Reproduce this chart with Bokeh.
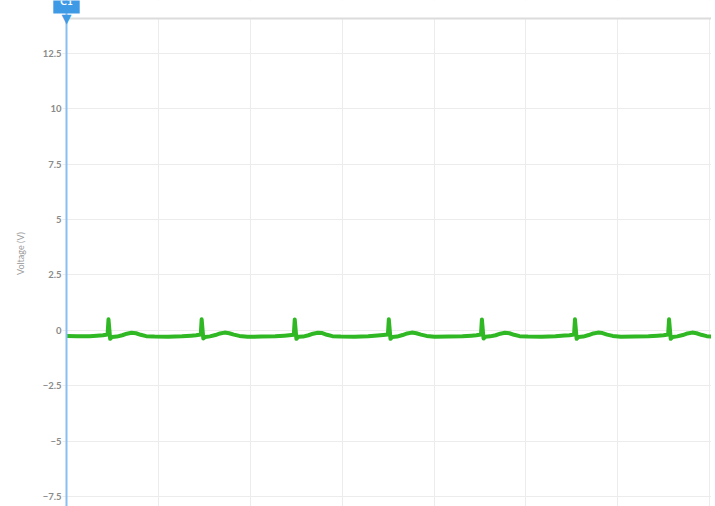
from bokeh.plotting import figure
from bokeh.models import Range1d, FixedTicker, Span, BoxAnnotation, Label
from bokeh.embed import file_html
from bokeh.resources import INLINE

# ---- data (time in s, voltage in V) ----
time_s = [
    0.000, 0.120, 0.250, 0.330,
    0.397, 0.447, 0.457, 0.475, 0.495, 0.547, 0.607, 0.657, 0.707, 0.757, 0.807, 0.867, 0.957, 1.107, 1.257, 1.357,
    1.411, 1.461, 1.471, 1.489, 1.509, 1.561, 1.621, 1.671, 1.721, 1.771, 1.821, 1.881, 1.971, 2.121, 2.271, 2.371,
    2.424, 2.474, 2.484, 2.502, 2.522, 2.574, 2.634, 2.684, 2.734, 2.784, 2.834, 2.894, 2.984, 3.134, 3.284, 3.384,
    3.448, 3.498, 3.508, 3.526, 3.546, 3.598, 3.658, 3.708, 3.758, 3.808, 3.858, 3.918, 4.008, 4.158, 4.308, 4.408,
    4.461, 4.511, 4.521, 4.539, 4.559, 4.611, 4.671, 4.721, 4.771, 4.821, 4.871, 4.931, 5.021, 5.171, 5.321, 5.421,
    5.474, 5.524, 5.534, 5.552, 5.572, 5.624, 5.684, 5.734, 5.784, 5.834, 5.884, 5.944, 6.034, 6.184, 6.334, 6.434,
    6.498, 6.548, 6.558, 6.576, 6.596, 6.648, 6.708, 6.758, 6.808, 6.858, 6.908, 6.968, 7.020,
]
voltage_v = [
    -0.25, -0.27, -0.26, -0.24,
    -0.22, -0.19, 0.50, -0.38, -0.30, -0.28, -0.22, -0.15, -0.11, -0.13, -0.20, -0.26, -0.28, -0.29, -0.27, -0.24,
    -0.22, -0.19, 0.50, -0.37, -0.30, -0.27, -0.21, -0.14, -0.10, -0.13, -0.19, -0.25, -0.29, -0.28, -0.27, -0.24,
    -0.22, -0.20, 0.49, -0.38, -0.29, -0.28, -0.22, -0.15, -0.11, -0.12, -0.20, -0.26, -0.28, -0.29, -0.27, -0.23,
    -0.21, -0.19, 0.50, -0.38, -0.30, -0.28, -0.21, -0.14, -0.10, -0.13, -0.19, -0.25, -0.29, -0.28, -0.27, -0.24,
    -0.22, -0.19, 0.49, -0.37, -0.29, -0.27, -0.22, -0.15, -0.11, -0.13, -0.20, -0.26, -0.28, -0.29, -0.27, -0.23,
    -0.22, -0.19, 0.50, -0.38, -0.30, -0.28, -0.21, -0.14, -0.10, -0.12, -0.19, -0.25, -0.29, -0.28, -0.27, -0.24,
    -0.22, -0.19, 0.50, -0.38, -0.30, -0.27, -0.21, -0.14, -0.10, -0.13, -0.20, -0.26, -0.28,
]
y_ticks = [-7.5, -5, -2.5, 0, 2.5, 5, 7.5, 10, 12.5]
x_grid = [0, 1, 2, 3, 4, 5, 6, 7]
y_label = "Voltage (V)"
cursor_name = "C1"

# ---- layout / styling ----
PX_X = 1 / 91.86
PX_Y = 1 / 22.15
X_START = -16 * PX_X          # frame starts 16px left of the cursor line
Y_TOP = 14.89
Y_TOP_BORDER = 14.08
cursor_x = 0.0
BLUE = "#3f9ae6"

p = figure(
    width=711, height=506,
    output_backend="svg", toolbar_location=None,
    x_axis_location=None,
    x_range=Range1d(X_START, 7.02), y_range=Range1d(-7.95, Y_TOP),
    min_border_left=50, min_border_right=0, min_border_top=0, min_border_bottom=0,
)
p.outline_line_color = None
p.background_fill_color = "white"

ax = p.yaxis[0]
ax.ticker = FixedTicker(ticks=y_ticks)
ax.axis_label = y_label
ax.axis_label_text_font = "Lato"
ax.axis_label_text_font_size = "9px"
ax.axis_label_text_font_style = "normal"
ax.axis_label_text_color = "#9a9a9a"
ax.axis_label_standoff = 14
ax.major_label_text_font = "Lato"
ax.major_label_text_font_size = "9.5px"
ax.major_label_text_font_style = "bold"
ax.major_label_text_color = "#8a8a8a"
ax.major_label_standoff = -11
ax.major_tick_out = 0
ax.major_tick_in = 0
ax.major_tick_line_color = None
ax.minor_tick_line_color = None
ax.minor_tick_out = 0
ax.axis_line_color = None

p.ygrid.ticker = FixedTicker(ticks=y_ticks)
p.xgrid.ticker = FixedTicker(ticks=x_grid)
p.grid.grid_line_color = "#ececec"
p.grid.grid_line_width = 1

# hide grid lines left of the tick labels' right edge
p.add_layout(BoxAnnotation(right=cursor_x - 4 * PX_X, fill_color="white", fill_alpha=1.0,
                           line_color=None, level="underlay"))

p.line(time_s, voltage_v, line_color="#2fb823", line_width=4, line_join="round")

# white area above the top border, and the border itself
p.add_layout(BoxAnnotation(bottom=Y_TOP_BORDER, fill_color="white", fill_alpha=1.0, line_color=None))
p.add_layout(BoxAnnotation(left=cursor_x, bottom=Y_TOP_BORDER - 1 * PX_Y, top=Y_TOP_BORDER + 1 * PX_Y,
                           fill_color="#dcdcdc", fill_alpha=1.0, line_color=None))

# cursor line and tag
p.add_layout(Span(location=cursor_x, dimension="height", line_color="#86c0f0", line_width=2))
p.add_layout(Label(
    x=cursor_x, y=Y_TOP, text=cursor_name, text_align="center", text_baseline="middle",
    text_color="white", text_font="Lato", text_font_size="10px", text_font_style="bold",
    background_fill_color=BLUE, background_fill_alpha=1.0, padding=7,
))
p.add_layout(Label(
    x=cursor_x, y=Y_TOP_BORDER - 0.5 * PX_Y, text="\u25bc", text_align="center", text_baseline="alphabetic",
    text_color=BLUE, text_font="DejaVu Sans", text_font_size="13px",
))

open("out.html", "w").write(file_html(p, INLINE))
